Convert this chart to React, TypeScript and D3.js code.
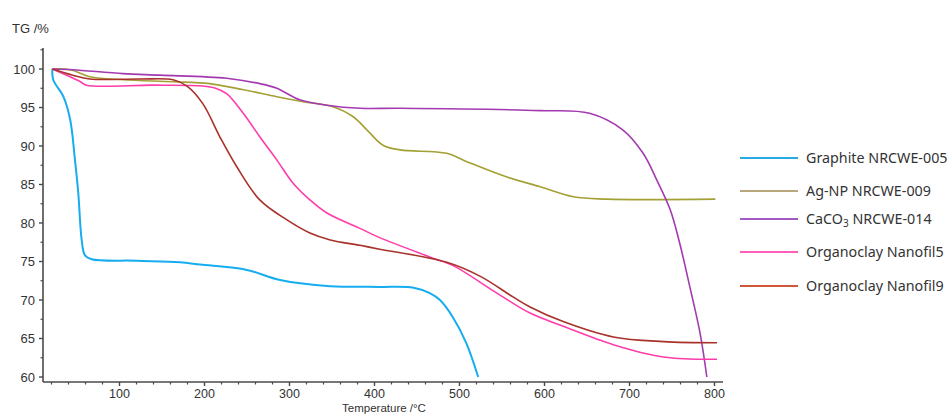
import React from 'react';
import * as d3 from 'd3';

// TG curves: [temperature °C, TG %]
const graphite: [number, number][] = [
  [21, 100], [22, 98.6], [34, 96.4], [42, 93.4], [47.6, 88.2], [51.5, 83.9], [55.5, 77.8],
  [59.4, 75.8], [67, 75.3], [120, 75.1], [171, 74.9], [195, 74.6], [250, 73.9], [289, 72.6],
  [348, 71.8], [406, 71.7], [446, 71.6], [465, 70.9], [477, 70.0], [492, 67.8], [508, 64.4],
  [522, 60.0],
];
const agNp: [number, number][] = [
  [21, 100], [42, 99.9], [65, 99.0], [104, 98.6], [163, 98.35], [206, 98.1], [246, 97.3],
  [285, 96.4], [316, 95.75], [351, 95.1], [375, 93.8], [391, 92.1], [410, 90.1], [430, 89.5],
  [485, 89.05], [508, 88.0], [555, 86.0], [595, 84.7], [634, 83.4], [673, 83.1], [801, 83.1],
];
const caco3: [number, number][] = [
  [21, 100], [45, 99.9], [104, 99.4], [148, 99.2], [226, 98.8], [265, 98.1], [285, 97.5],
  [312, 96.0], [344, 95.3], [383, 94.9], [430, 94.9], [595, 94.6], [653, 94.25], [692, 92.1],
  [716, 89.05], [732, 85.6], [748, 81.7], [759, 77.4], [771, 71.7], [783, 65.7], [791, 60.0],
];
const nanofil5: [number, number][] = [
  [21, 100], [54, 98.35], [61, 97.9], [140, 97.9], [198, 97.8], [213, 97.5], [226, 96.8],
  [246, 94.2], [265, 91.2], [285, 88.2], [304, 85.2], [324, 83.0], [344, 81.3], [383, 79.3],
  [406, 78.1], [465, 75.6], [492, 74.5], [544, 70.9], [583, 68.3], [622, 66.6], [681, 64.2],
  [740, 62.6], [803, 62.3],
];
const nanofil9: [number, number][] = [
  [21, 100], [45, 99.2], [65, 98.7], [124, 98.7], [163, 98.6], [179, 97.8], [198, 95.5],
  [218, 91.2], [238, 87.3], [265, 83.0], [297, 80.4], [324, 78.7], [348, 77.8], [383, 77.1],
  [406, 76.6], [485, 74.9], [524, 73.1], [563, 70.4], [583, 69.1], [622, 67.2], [681, 65.2],
  [740, 64.6], [803, 64.45],
];

const seriesNames = ['Graphite NRCWE-005', 'Ag-NP NRCWE-009', 'CaCO3 NRCWE-014', 'Organoclay Nanofil5', 'Organoclay Nanofil9'];
const seriesData = [graphite, agNp, caco3, nanofil5, nanofil9];
const lineColors = ['#16adf0', '#a4a034', '#a43ab0', '#ff3caa', '#a8322a'];
const legendColors = ['#27aae1', '#b8a67e', '#a259c4', '#ff5fb8', '#d0563a'];

const xTicks = [100, 200, 300, 400, 500, 600, 700, 800];
const yTicks = [60, 65, 70, 75, 80, 85, 90, 95, 100];

const W = 952;
const H = 414;

export default function App() {
  const x = d3.scaleLinear().domain([0, 800]).range([34.5, 714.5]);
  const y = d3.scaleLinear().domain([60, 100]).range([377, 69]);

  const line = d3.line<[number, number]>()
    .x(d => x(d[0]))
    .y(d => y(d[1]))
    .curve(d3.curveCatmullRom.alpha(0.5));

  const axisLeft = 43;
  const axisBottom = 382;
  const xMinor = d3.range(20, 801, 20).filter(t => t % 100 !== 0 && x(t) > axisLeft);
  const yMinor = d3.range(60, 103, 2.5).filter(v => v % 5 !== 0);
  const axisColor = '#4a4a4a';
  const font = 'Liberation Sans, Arial, sans-serif';

  return (
    <svg width={W} height={H} style={{ position: 'absolute', left: 0, top: 0, background: '#fff' }}>
      {/* curves */}
      {seriesData.map((d, i) => (
        <path key={i} d={line(d) ?? ''} fill="none" stroke={lineColors[i]}
          strokeWidth={i === 0 ? 2 : 1.6} />
      ))}

      {/* y axis */}
      <line x1={axisLeft} x2={axisLeft} y1={48} y2={axisBottom} stroke={axisColor} strokeWidth={1.6} />
      {yTicks.map(v => (
        <g key={v}>
          <line x1={axisLeft - 4} x2={axisLeft} y1={y(v)} y2={y(v)} stroke={axisColor} strokeWidth={1.4} />
          <text x={35} y={y(v) + 4.5} textAnchor="end" fontFamily={font} fontSize={13} fill="#333">{v}</text>
        </g>
      ))}
      {yMinor.map(v => (
        <line key={v} x1={axisLeft - 2.5} x2={axisLeft} y1={y(v)} y2={y(v)} stroke={axisColor} strokeWidth={1.2} />
      ))}
      <text x={12} y={33} fontFamily={font} fontSize={13} fill="#333">TG /%</text>

      {/* x axis */}
      <line x1={axisLeft} x2={723} y1={axisBottom} y2={axisBottom} stroke={axisColor} strokeWidth={1.6} />
      {xTicks.map(t => (
        <g key={t}>
          <line x1={x(t)} x2={x(t)} y1={axisBottom} y2={axisBottom + 4} stroke={axisColor} strokeWidth={1.4} />
          <text x={x(t)} y={398} textAnchor="middle" fontFamily={font} fontSize={12.5} fill="#333">{t}</text>
        </g>
      ))}
      {xMinor.map(t => (
        <line key={t} x1={x(t)} x2={x(t)} y1={axisBottom} y2={axisBottom + 2.5} stroke={axisColor} strokeWidth={1.2} />
      ))}
      <text x={384} y={411.5} textAnchor="middle" fontFamily={font} fontSize={11.5} fill="#333">Temperature /°C</text>

      {/* legend */}
      {seriesNames.map((name, i) => {
        const ly = [158, 191, 219, 252, 286][i];
        return (
          <g key={name}>
            <line x1={740} x2={798} y1={ly} y2={ly} stroke={legendColors[i]} strokeWidth={2} />
            <text x={806} y={ly + 5} fontFamily="Noto Sans, Open Sans, sans-serif" fontSize={14.3} fill="#333">
              {name === 'CaCO3 NRCWE-014' ? (
                <>CaCO<tspan fontSize={10} dy={3}>3</tspan><tspan dy={-3}> NRCWE-014</tspan></>
              ) : name}
            </text>
          </g>
        );
      })}
    </svg>
  );
}
